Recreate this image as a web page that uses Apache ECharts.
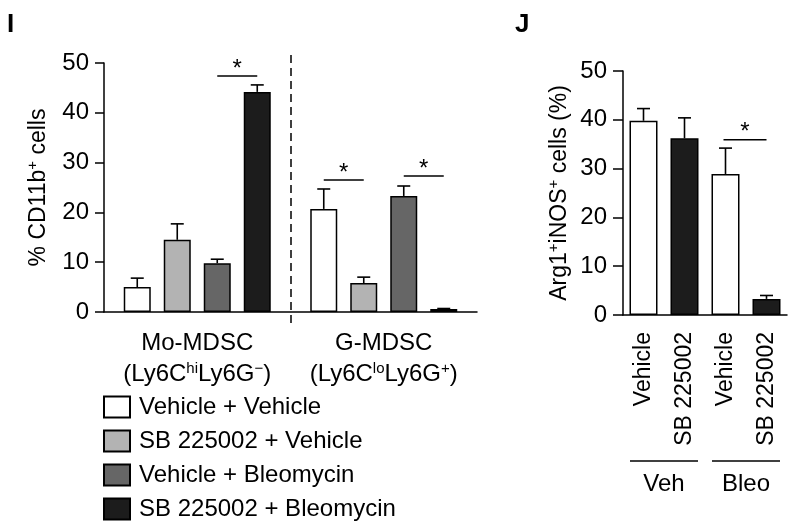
<!DOCTYPE html>
<html>
<head>
<meta charset="utf-8">
<script src="https://cdn.jsdelivr.net/npm/echarts@6/dist/echarts.min.js"></script>
<style>
html,body{margin:0;padding:0;background:#fff;}
#chart{width:789px;height:522px;}
</style>
</head>
<body>
<div id="chart"></div>
<script>
// ---------- Panel I data ----------
const iCategories = ['Mo-MDSC', 'G-MDSC'];
const iSubsets = [['hi', '\u2212'], ['lo', '+']];
const iSeriesNames = ['Vehicle + Vehicle', 'SB 225002 + Vehicle', 'Vehicle + Bleomycin', 'SB 225002 + Bleomycin'];
const iVehVeh = [5.0, 20.7];
const iSbVeh = [14.5, 5.8];
const iVehBleo = [9.8, 23.3];
const iSbBleo = [44.2, 0.6];
const iVehVehErr = [1.8, 4.0];
const iSbVehErr = [3.2, 1.2];
const iVehBleoErr = [0.8, 2.0];
const iSbBleoErr = [1.4, 0.1];
// [category index, from series, to series, bracket height]
const iSig = [[0, 2, 3, 47.4], [1, 0, 1, 26.5], [1, 2, 3, 27.3]];

// ---------- Panel J data ----------
const jCategories = ['Vehicle', 'SB 225002', 'Vehicle', 'SB 225002'];
const jGroups = ['Veh', 'Bleo'];
const jMeans = [39.8, 36.2, 28.9, 3.3];
const jErr = [2.5, 4.2, 5.3, 0.7];
// [from category, to category, bracket height]
const jSig = [[2, 3, 35.9]];

// ---------- styles ----------
const FONT = 'Liberation Sans';
const iColors = ['#ffffff', '#b3b3b3', '#666666', '#1c1c1c'];
const BAR_W = 27, BAR_STEP = 40;
const axisLineStyle = {color: '#000', width: 1.5};

const iMeans = [iVehVeh, iSbVeh, iVehBleo, iSbBleo];
const iErrs = [iVehVehErr, iSbVehErr, iVehBleoErr, iSbBleoErr];

const iErrData = [];
iMeans.forEach((arr, s) => arr.forEach((v, c) => iErrData.push([c, s, v, iErrs[s][c]])));

function errorBarRenderer(offsetFn) {
  return function (params, api) {
    const cat = api.value(0);
    const off = offsetFn(api.value(1));
    const base = api.coord([cat, api.value(2)]);
    const top = api.coord([cat, api.value(2) + api.value(3)]);
    const x = base[0] + off;
    const st = {stroke: '#000', lineWidth: 1.6};
    return {
      type: 'group',
      children: [
        {type: 'line', shape: {x1: x, y1: base[1], x2: x, y2: top[1]}, style: st},
        {type: 'line', shape: {x1: x - 6.5, y1: top[1], x2: x + 6.5, y2: top[1]}, style: st}
      ]
    };
  };
}

function sigRenderer(getX) {
  return function (params, api) {
    const xs = getX(api);
    const y = api.coord([0, api.value(3)])[1];
    return {
      type: 'group',
      children: [
        {type: 'line', shape: {x1: xs[0], y1: y, x2: xs[1], y2: y}, style: {stroke: '#000', lineWidth: 1.6}},
        {type: 'text', style: {text: '*', x: (xs[0] + xs[1]) / 2, y: y + 5, align: 'center', verticalAlign: 'bottom',
          font: '24px "' + FONT + '"', fill: '#000'}}
      ]
    };
  };
}

const iOffset = s => (s - 1.5) * BAR_STEP;

const series = [];
iSeriesNames.forEach((name, s) => {
  series.push({
    name: name, type: 'bar', xAxisIndex: 0, yAxisIndex: 0,
    data: iMeans[s], barWidth: BAR_W, barGap: ((BAR_STEP - BAR_W) / BAR_W * 100) + '%',
    itemStyle: {color: iColors[s], borderColor: '#000', borderWidth: 1.5},
    emphasis: {disabled: true}, z: 2
  });
});
series.push({
  type: 'custom', xAxisIndex: 0, yAxisIndex: 0, data: iErrData, z: 3, silent: true,
  encode: {x: 0, y: 2},
  renderItem: errorBarRenderer(iOffset)
});
series.push({
  type: 'custom', xAxisIndex: 0, yAxisIndex: 0, z: 4, silent: true,
  data: iSig.map(d => [d[0], d[1], d[2], d[3]]), encode: {x: 0, y: 3},
  renderItem: sigRenderer(api => {
    const cx = api.coord([api.value(0), 0])[0];
    return [cx + iOffset(api.value(1)), cx + iOffset(api.value(2))];
  })
});
// Panel J
series.push({
  name: 'J', type: 'bar', xAxisIndex: 2, yAxisIndex: 2,
  data: jMeans.map((v, i) => ({value: v, itemStyle: {color: jCategories[i] === 'Vehicle' ? '#ffffff' : '#1c1c1c'}})),
  barWidth: 28, itemStyle: {borderColor: '#000', borderWidth: 1.5}, emphasis: {disabled: true}, z: 2
});
series.push({
  type: 'custom', xAxisIndex: 2, yAxisIndex: 2, z: 3, silent: true,
  data: jMeans.map((v, i) => [i, 0, v, jErr[i]]), encode: {x: 0, y: 2},
  renderItem: errorBarRenderer(() => 0)
});
series.push({
  type: 'custom', xAxisIndex: 2, yAxisIndex: 2, z: 4, silent: true,
  data: jSig.map(d => [d[0], d[1], 0, d[2]]), encode: {x: 0, y: 3},
  renderItem: sigRenderer(api => [api.coord([api.value(0), 0])[0] - 2, api.coord([api.value(1), 0])[0]])
});

const supRich = {
  sup: {fontSize: 15, fontFamily: FONT, color: '#000', padding: [0, 0, 12, 0]}
};

const option = {
  animation: false,
  backgroundColor: '#fff',
  textStyle: {fontFamily: FONT, color: '#000'},
  title: [
    {text: 'I', left: 2, top: 7, textStyle: {fontSize: 26, fontWeight: 'bold', fontFamily: FONT, color: '#000'}},
    {text: 'J', left: 510, top: 7, textStyle: {fontSize: 26, fontWeight: 'bold', fontFamily: FONT, color: '#000'}}
  ],
  legend: {
    data: iSeriesNames, orient: 'vertical', left: 103, top: 395, padding: 0, height: 300,
    itemWidth: 26, itemHeight: 21, itemGap: 10, icon: 'rect',
    textStyle: {fontSize: 24, lineHeight: 21, fontFamily: FONT, color: '#000', padding: [0, 0, 0, 4]},
    selectedMode: false
  },
  grid: [
    {left: 104, top: 63, width: 373, height: 249},
    {left: 623, top: 71, width: 164, height: 244},
    {left: 104, top: 55, width: 373, height: 268}
  ],
  xAxis: [
    {
      type: 'category', gridIndex: 0, data: iCategories,
      axisLine: {lineStyle: axisLineStyle},
      axisTick: {alignWithLabel: true, length: 10, lineStyle: axisLineStyle},
      axisLabel: {
        margin: 16, interval: 0, hideOverlap: false, fontSize: 24, fontFamily: FONT, color: '#000', lineHeight: 31,
        formatter: (v, i) => v + '\n(Ly6C{sup|' + iSubsets[i][0] + '}Ly6G{sup|' + iSubsets[i][1] + '})',
        rich: supRich
      }
    },
    {
      type: 'category', gridIndex: 2, data: iCategories,
      axisLine: {show: false}, axisTick: {show: false}, axisLabel: {show: false},
      splitLine: {show: true, showMinLine: false, showMaxLine: false, lineStyle: {color: '#000', width: 1.5, type: [8, 5]}}
    },
    {
      type: 'category', gridIndex: 1, data: jCategories,
      axisLine: {lineStyle: axisLineStyle},
      axisTick: {alignWithLabel: true, length: 10, lineStyle: axisLineStyle},
      axisLabel: {rotate: 90, margin: 17, fontSize: 23, fontFamily: FONT, color: '#000', interval: 0}
    },
    {
      type: 'category', gridIndex: 1, data: jGroups, position: 'bottom',
      axisLine: {show: false}, axisTick: {show: false},
      axisLabel: {
        margin: 145, interval: 0,
        formatter: v => '{ln| }\n{t|' + v + '}',
        rich: {
          ln: {width: 68, height: 1.5, lineHeight: 2, fontSize: 1, backgroundColor: '#000'},
          t: {fontSize: 24, fontFamily: FONT, color: '#000', lineHeight: 38, padding: [6, 0, 0, 0]}
        }
      }
    }
  ],
  yAxis: [
    {
      type: 'value', gridIndex: 0, min: 0, max: 50, interval: 10,
      name: '% CD11b{sup|+} cells', nameLocation: 'middle', nameGap: 52,
      nameTextStyle: {fontSize: 23, fontFamily: FONT, color: '#000', rich: supRich},
      axisLine: {show: true, lineStyle: axisLineStyle},
      axisTick: {show: true, length: 9, lineStyle: axisLineStyle},
      axisLabel: {margin: 15, fontSize: 24, fontFamily: FONT, color: '#000'},
      splitLine: {show: false}
    },
    {type: 'value', gridIndex: 2, show: false, min: 0, max: 1, splitLine: {show: false}},
    {
      type: 'value', gridIndex: 1, min: 0, max: 50, interval: 10,
      name: 'Arg1{sup|+}iNOS{sup|+} cells (%)', nameLocation: 'middle', nameGap: 50,
      nameTextStyle: {fontSize: 23, fontFamily: FONT, color: '#000', rich: supRich},
      axisLine: {show: true, lineStyle: axisLineStyle},
      axisTick: {show: true, length: 10, lineStyle: axisLineStyle},
      axisLabel: {margin: 16, fontSize: 24, fontFamily: FONT, color: '#000'},
      splitLine: {show: false}
    }
  ],
  series: series
};

const chart = echarts.init(document.getElementById('chart'), null, {renderer: 'canvas'});
chart.setOption(option);
</script>
</body>
</html>
